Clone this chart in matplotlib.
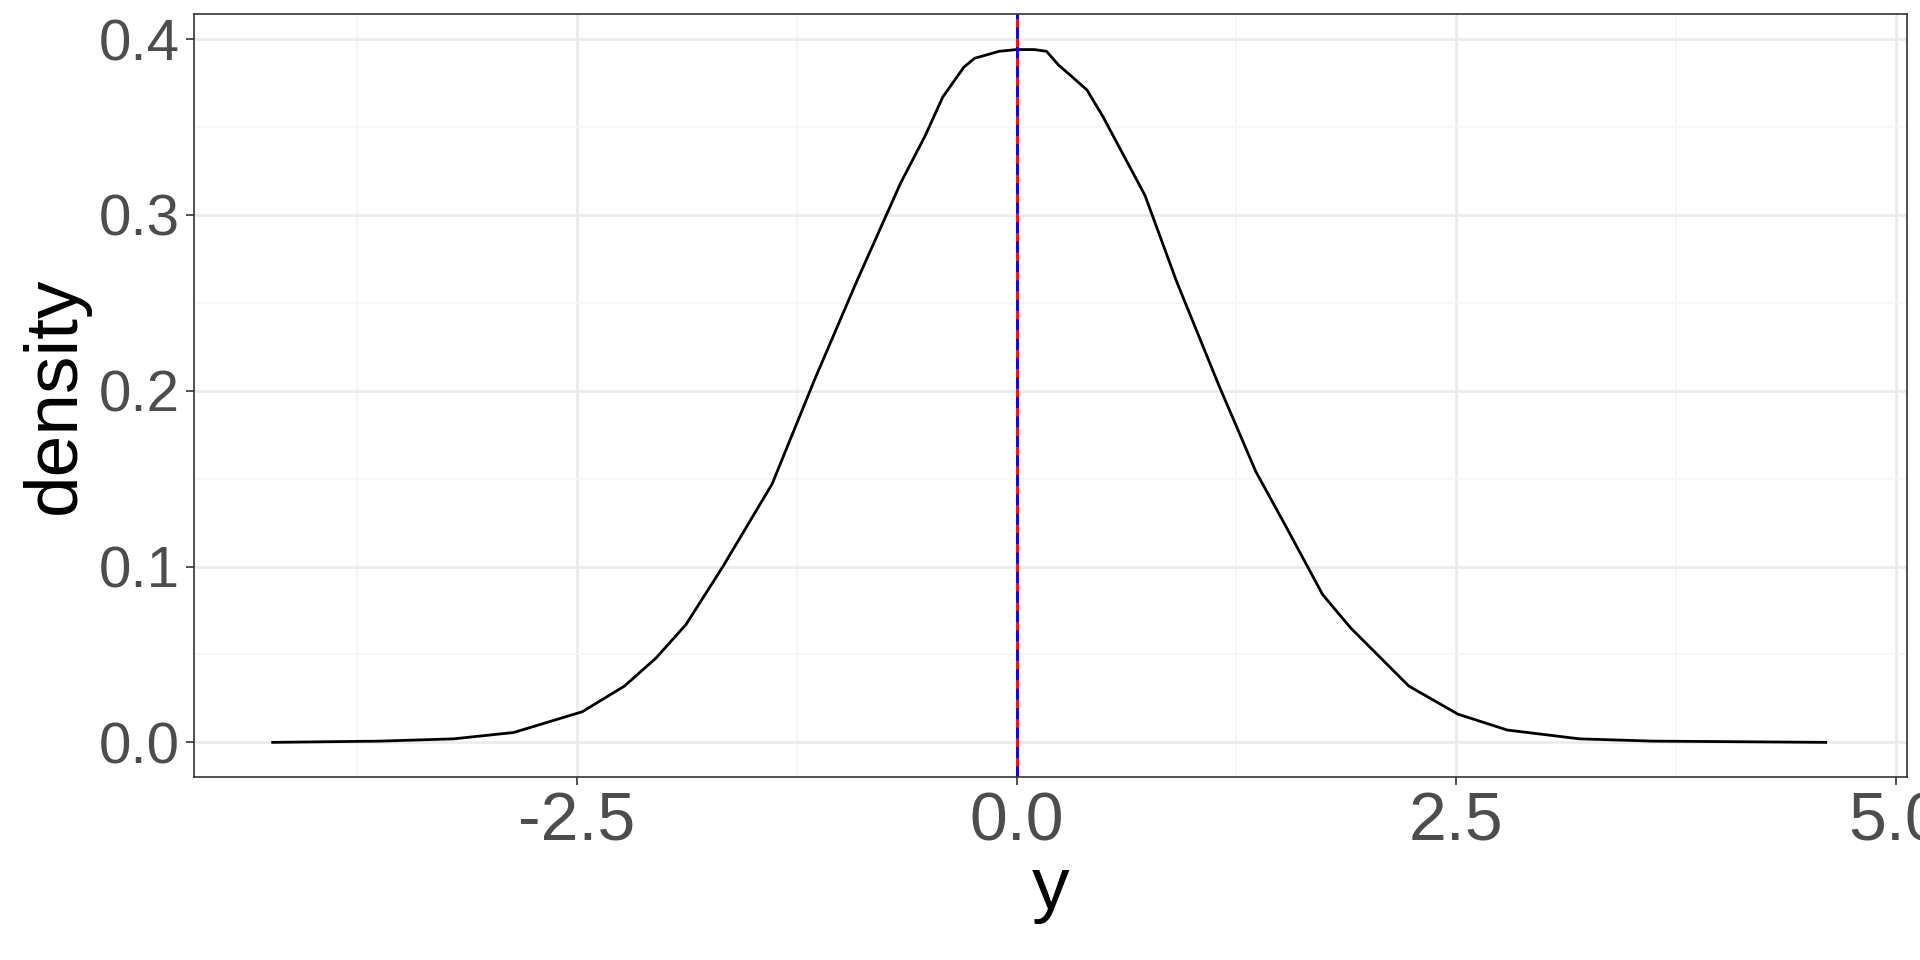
import matplotlib
matplotlib.use("Agg")
import matplotlib.pyplot as plt
import numpy as np

plt.rcParams['font.family'] = ['Liberation Sans', 'DejaVu Sans']

y_vals = [-4.23, -3.62, -3.20, -2.86, -2.47, -2.23, -2.05, -1.88, -1.67, -1.39, -1.15, -0.91, -0.66,
          -0.52, -0.42, -0.30, -0.24, -0.10, 0.0, 0.10, 0.17, 0.24, 0.31, 0.40, 0.49, 0.73, 0.91,
          1.15, 1.36, 1.53, 1.74, 1.90, 2.02, 2.23, 2.51, 2.79, 3.20, 3.62, 4.60]
density = [0.0, 0.0007, 0.002, 0.0056, 0.0174, 0.032, 0.048, 0.067, 0.100, 0.147, 0.206, 0.262,
           0.318, 0.345, 0.367, 0.384, 0.389, 0.393, 0.394, 0.394, 0.393, 0.385, 0.379, 0.371,
           0.356, 0.311, 0.262, 0.203, 0.154, 0.123, 0.084, 0.065, 0.053, 0.032, 0.016, 0.007,
           0.002, 0.0007, 0.0]
mean_val = 0.0
median_val = 0.0
xticks = [-2.5, 0.0, 2.5, 5.0]
yticks = [0.0, 0.1, 0.2, 0.3, 0.4]

fig = plt.figure(figsize=(19.2, 9.6), dpi=100)
ax = fig.add_axes([0.1008, 0.191, 0.8922, 0.794])

ax.plot(y_vals, density, color='black', lw=2, solid_joinstyle='round')
ax.axvline(mean_val, color='red', lw=2)
ax.axvline(median_val, color='blue', lw=2, ls=(0, (4, 3)))

ax.set_xlim(-4.68, 5.06)
ax.set_ylim(-0.0195, 0.414)
ax.set_xticks(xticks)
ax.set_xticklabels([f"{v:.1f}" for v in xticks])
ax.set_yticks(yticks)
ax.set_yticklabels([f"{v:.1f}" for v in yticks])
ax.set_xticks([-3.75, -1.25, 1.25, 3.75], minor=True)
ax.set_yticks([0.05, 0.15, 0.25, 0.35], minor=True)
ax.grid(which='major', color='#EBEBEB', lw=2)
ax.grid(which='minor', color='#F5F5F5', lw=1.2)
ax.set_axisbelow(True)
ax.tick_params(which='minor', length=0)
ax.tick_params(axis='x', labelsize=49, length=6, width=1.2, pad=4)
ax.tick_params(axis='y', labelsize=42, length=6, width=1.2, pad=4)
ax.tick_params(colors='#333333', which='major', labelcolor='#4D4D4D')
for s in ax.spines.values():
    s.set_color('#333333')
    s.set_linewidth(1.2)
ax.set_xlabel('y', fontsize=54, labelpad=0)
ax.set_ylabel('density', fontsize=54, labelpad=6)

fig.savefig('out.png', dpi=100)
